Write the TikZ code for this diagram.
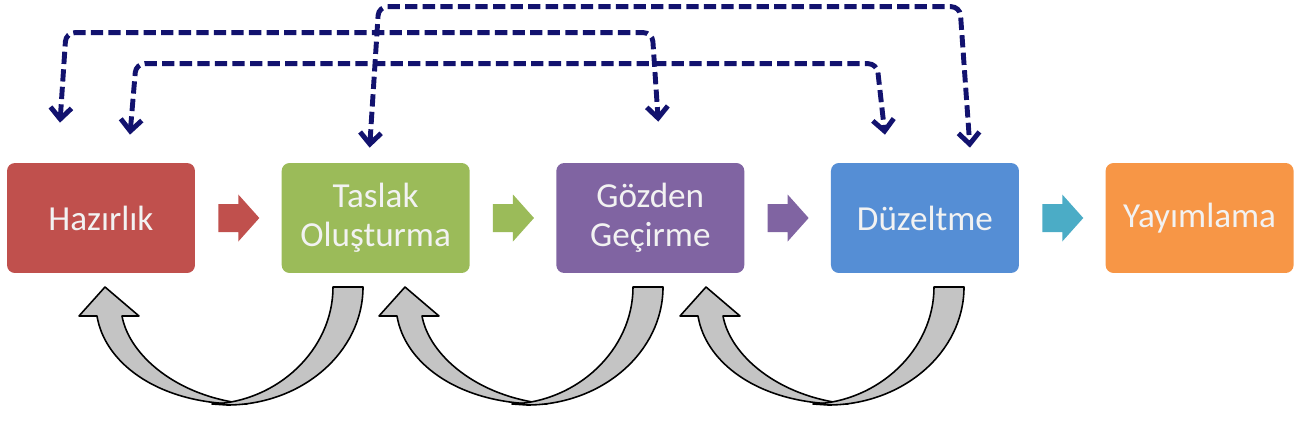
\documentclass[tikz,border=0pt]{standalone}
\usepackage{fontspec}
\setmainfont{Carlito}
\usepackage{xcolor}
\usepackage{tikz}
\usetikzlibrary{positioning, arrows.meta, calc}
\definecolor{stepred}{HTML}{C0504D}
\definecolor{stepgreen}{HTML}{9BBB59}
\definecolor{steppurple}{HTML}{8064A2}
\definecolor{stepblue}{HTML}{558ED5}
\definecolor{steporange}{HTML}{F79646}
\definecolor{stepteal}{HTML}{4BACC6}
\definecolor{linknavy}{HTML}{12126E}
\definecolor{bandgray}{HTML}{C4C4C4}

\tikzset{
  stage/.style={rounded corners=4.5pt, minimum width=3.76cm, minimum height=2.2cm,
                text=white!95!black, align=center, font=\fontsize{20}{22}\selectfont},
  dashlink/.style={draw=linknavy, line width=2.8pt, dash pattern=on 7pt off 3pt,
                   rounded corners=5pt,
                   {Straight Barb[length=6.5pt,width=12pt]}-{Straight Barb[length=6.5pt,width=12pt]}},
  backband/.style={fill=bandgray, draw=black, line width=0.9pt, line join=round},
  chev/.pic={\path[pic actions] (-20,-14) -- (0,-14) -- (0,-23.5) -- (21,0)
                                -- (0,23.5) -- (0,14) -- (-20,14) -- cycle;}
}

\begin{document}
\begin{tikzpicture}[x=0.02cm, y=0.02cm]
    \useasboundingbox (0,0) rectangle (1300,427);

    % stages
    \node[stage, fill=stepred] (haz) at (101,209) {Hazırlık};
    \node[stage, fill=stepgreen, right=1.72cm of haz] (tas) {Taslak\\Oluşturma};
    \node[stage, fill=steppurple, right=1.72cm of tas] (goz) {Gözden\\Geçirme};
    \node[stage, fill=stepblue, right=1.72cm of goz] (duz) {Düzeltme};
    \node[stage, fill=steporange, right=1.72cm of duz] (yay) {Yayımlama};

    \foreach \a/\b/\c in {haz/tas/stepred, tas/goz/stepgreen, goz/duz/steppurple, duz/yay/stepteal}
      \pic[fill=\c] at ($(\a.east)!0.5!(\b.west)$) {chev};

    % links above
    \draw[dashlink] ($(haz.north)+(-41,40)$) -- ($(haz.north)+(-35,130)$)
        -- ($(goz.north)+(2,130)$) -- ($(goz.north)+(8,41)$);
    \draw[dashlink] ($(haz.north)+(29,28)$) -- ($(haz.north)+(35,99)$)
        -- ($(duz.north)+(-48,99)$) -- ($(duz.north)+(-40,28)$);
    \draw[dashlink] ($(tas.north)+(-6,15)$) -- ($(tas.north)+(3,156)$)
        -- ($(duz.north)+(35,156)$) -- ($(duz.north)+(45,15)$);

    % loops back below
    \foreach \bx in {227,527,828}{
      \begin{scope}[shift={(\bx,22)}]
        \path[backband] (20,1) .. controls (-65,-1) and (-122,40) .. (-130,89)
            -- (-148,89) -- (-122,118) -- (-88,89) -- (-105,89)
            .. controls (-98,50) and (-50,8) .. (20,1) -- cycle;
        \path[backband] (136,118) .. controls (136,53) and (75,0) .. (0,0)
            -- (-15,1) .. controls (50,3) and (106,55) .. (106,118) -- cycle;
      \end{scope}
    }
\end{tikzpicture}
\end{document}
